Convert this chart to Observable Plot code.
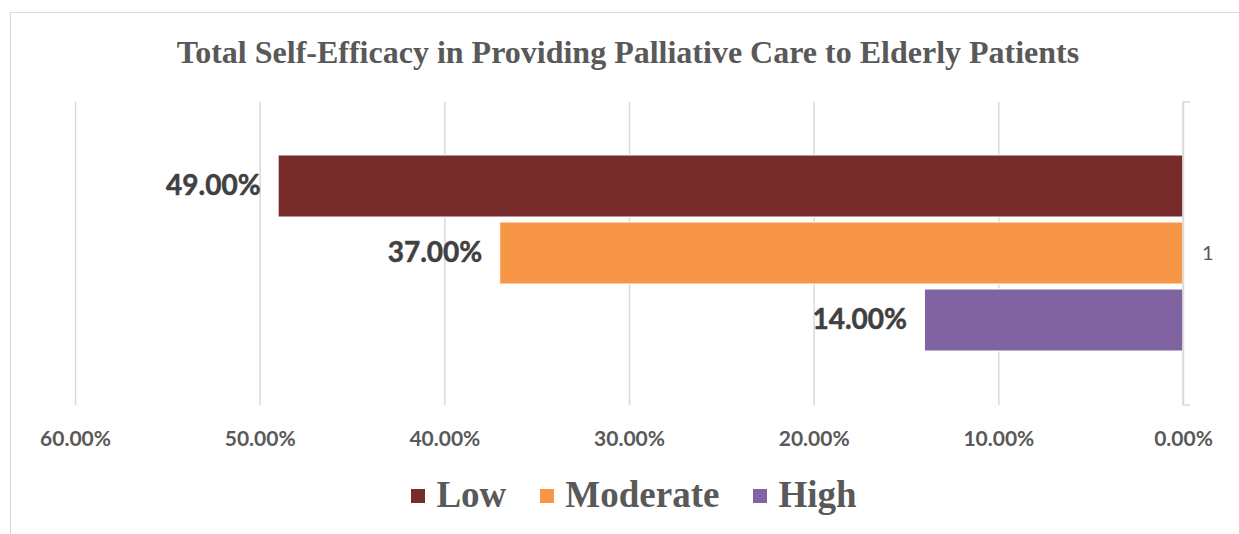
<!DOCTYPE html>
<html><head><meta charset="utf-8">
<script src="https://cdn.jsdelivr.net/npm/d3@7"></script>
<script src="https://cdn.jsdelivr.net/npm/@observablehq/plot@0.6"></script>
<style>
body{margin:0;background:#fff;}
#wrap{position:relative;width:1239px;height:534px;overflow:hidden;background:#fff;}
#border{position:absolute;left:10px;top:12px;width:1300px;height:600px;border:1px solid #d9d9d9;box-sizing:border-box;}
#title{position:absolute;left:8px;width:1240px;top:34px;text-align:center;font-family:"Liberation Serif","Times New Roman",serif;font-weight:bold;font-size:32px;color:#595959;line-height:36px;}
#chart{position:absolute;left:0;top:90px;}
#legend{position:absolute;left:14px;width:1240px;top:474px;display:flex;justify-content:center;align-items:center;font-family:"Liberation Serif","Times New Roman",serif;font-weight:bold;font-size:37px;color:#595959;line-height:42px;}
.item{display:flex;align-items:center;margin:0 17px;}
.sw{width:14px;height:14px;margin-right:11px;margin-top:2px;}
</style>
</head><body>
<div id="wrap">
  <div id="border"></div>
  <div id="title"></div>
  <div id="chart"></div>
  <div id="legend"></div>
</div>
<script>
const titleText = "Total Self-Efficacy in Providing Palliative Care to Elderly Patients";
const categories = ["Low", "Moderate", "High"];
const values = [0.49, 0.37, 0.14];
const colors = ["#772B2B", "#F79646", "#8064A2"];
const groupLabel = "1";
const xTicks = [0.6, 0.5, 0.4, 0.3, 0.2, 0.1, 0];

const pct = d3.format(".2%");
const data = categories.map((c, i) => ({category: c, value: values[i]}));

document.getElementById("title").textContent = titleText;

const chart = Plot.plot({
  width: 1239,
  height: 370,
  marginTop: 12,
  marginBottom: 55,
  marginLeft: 75,
  marginRight: 56,
  style: {fontFamily: "Lato, 'Open Sans', sans-serif", fontSize: "21px", fontWeight: "bold", color: "#595959", background: "transparent", overflow: "visible"},
  x: {domain: [0, 0.6], reverse: true, label: null},
  y: {domain: categories, paddingInner: 0.074, paddingOuter: 0.785, axis: null},
  color: {domain: categories, range: colors},
  marks: [
    Plot.ruleX(xTicks, {stroke: "#d9d9d9", strokeWidth: 1.5}),
    Plot.barX(data, {x: "value", y: "category", fill: "category", stroke: "white", strokeWidth: 1}),
    Plot.text(data, {x: "value", y: "category", text: d => pct(d.value), textAnchor: "end", dx: -18, fill: "#404040", stroke: "#404040", strokeWidth: 0.5, fontSize: 28, fontWeight: "bold"}),
    Plot.axisX({ticks: xTicks, tickFormat: pct, tickSize: 0, tickPadding: 26, fill: "#595959", label: null}),
    Plot.text([groupLabel], {frameAnchor: "right", dx: 30, fontSize: 20, fontWeight: "normal", fill: "#595959"})
  ]
});

// category axis bracket on the right, drawn from the plot's own scales
const sx = chart.scale("x");
const sy = chart.scale("y");
const x0 = sx.apply(0);
const [yTop, yBot] = sy.range;
d3.select(chart).append("path")
  .attr("d", `M${x0 + 7},${yTop}H${x0}V${yBot}H${x0 + 7}`)
  .attr("fill", "none").attr("stroke", "#d9d9d9").attr("stroke-width", 1.5);

document.getElementById("chart").appendChild(chart);

const legend = d3.select("#legend");
categories.forEach((c, i) => {
  const it = legend.append("div").attr("class", "item");
  it.append("div").attr("class", "sw").style("background", colors[i]);
  it.append("span").text(c);
});
</script>
</body></html>
